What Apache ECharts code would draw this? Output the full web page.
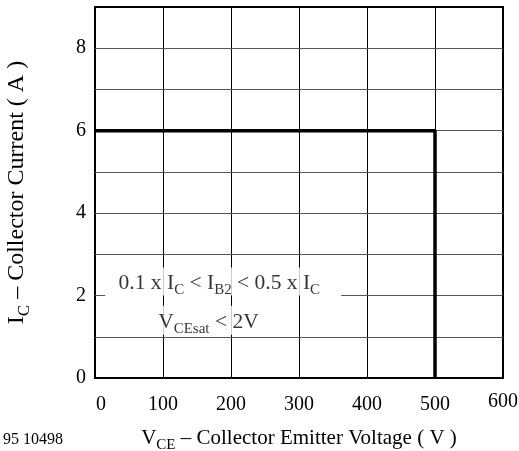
<!DOCTYPE html>
<html>
<head>
<meta charset="utf-8">
<script src="https://cdn.jsdelivr.net/npm/echarts@6/dist/echarts.min.js"></script>
<style>
html,body{margin:0;padding:0;background:#fff;}
#c{width:519px;height:451px;}
</style>
</head>
<body>
<div id="c"></div>
<script>
// ---- data ----
var xTicks = [0, 100, 200, 300, 400, 500, 600];
var yTicks = [0, 1, 2, 3, 4, 5, 6, 7, 8, 9];
var yLabelValues = [0, 2, 4, 6, 8];
var soaX = [0, 500, 500];
var soaY = [6, 6, 0];
var gridGapY = 2;          // horizontal grid line interrupted by the note
var gridGapX = [15, 362];  // extent of interruption (V)
var note1Pos = [188, 2.34];
var note2Pos = [169, 1.40];

var FONT = "'Liberation Serif', 'Times New Roman', serif";
var chart = echarts.init(document.getElementById('c'), null, {renderer: 'canvas'});

var soaData = soaX.map(function (x, i) { return [x, soaY[i]]; });

// horizontal grid lines as mark lines (so one can have a gap)
var hLines = [];
yTicks.forEach(function (y) {
  if (y === 0 || y === 9) return;
  if (y === gridGapY) {
    hLines.push([{coord: [0, y]}, {coord: [gridGapX[0], y]}]);
    hLines.push([{coord: [gridGapX[1], y]}, {coord: [600, y]}]);
  } else {
    hLines.push([{coord: [0, y]}, {coord: [600, y]}]);
  }
});

var subRich = {
  n: {fontFamily: FONT, fontSize: 21.5, color: '#000', verticalAlign: 'top', lineHeight: 23},
  s: {fontFamily: FONT, fontSize: 15, color: '#000', verticalAlign: 'top', lineHeight: 17, padding: [10, 0, 0, 0]}
};
var xNameRich = {
  n: {fontFamily: FONT, fontSize: 21, color: '#000', verticalAlign: 'top', lineHeight: 23},
  s: {fontFamily: FONT, fontSize: 15, color: '#000', verticalAlign: 'top', lineHeight: 17, padding: [10, 0, 0, 0]}
};
var yNameRich = {
  n: {fontFamily: FONT, fontSize: 24, color: '#000', verticalAlign: 'top', lineHeight: 26},
  s: {fontFamily: FONT, fontSize: 17, color: '#000', verticalAlign: 'top', lineHeight: 18, padding: [11, 0, 0, 0]}
};

var option = {
  backgroundColor: '#fff',
  animation: false,
  grid: {left: 95, top: 7, right: 16, bottom: 73, show: true, borderColor: '#000', borderWidth: 2,
         backgroundColor: 'transparent', containLabel: false, outerBoundsMode: 'none'},
  xAxis: {
    type: 'value', min: 0, max: 600, interval: 100,
    name: '{n|V}{s|CE}{n| – Collector Emitter Voltage ( V )}',
    nameLocation: 'middle', nameGap: 50,
    nameTextStyle: {rich: xNameRich},
    axisLine: {show: true, onZero: false, lineStyle: {color: '#000', width: 2}},
    axisTick: {show: false},
    splitLine: {show: true, lineStyle: {color: '#000', width: 1}},
    axisLabel: {
      margin: 14,
      formatter: function (v) {
        if (v === 0) return '{z|0}';
        if (v === 600) return '{t|600}';
        return '{n|' + v + '}';
      },
      rich: {
        n: {fontFamily: FONT, fontSize: 20, color: '#000', padding: [3, 0, 0, 0]},
        z: {fontFamily: FONT, fontSize: 20, color: '#000', padding: [3, 0, 0, 12]},
        t: {fontFamily: FONT, fontSize: 20, color: '#000', padding: [0, 0, 0, 0]}
      }
    }
  },
  yAxis: {
    type: 'value', min: 0, max: 9, interval: 1,
    name: '{n|I}{s|C}{n| – Collector Current ( A )}',
    nameLocation: 'middle', nameGap: 64,
    nameTextStyle: {rich: yNameRich},
    axisLine: {show: true, onZero: false, lineStyle: {color: '#000', width: 2}},
    axisTick: {show: false},
    splitLine: {show: false},
    axisLabel: {
      margin: 9,
      fontFamily: FONT, fontSize: 20, color: '#000',
      formatter: function (v) { return yLabelValues.indexOf(v) >= 0 ? String(v) : ''; }
    }
  },
  graphic: [{
    type: 'text', left: 3, top: 432,
    style: {text: '95 10498', font: '16px ' + FONT, fill: '#000'}
  }],
  series: [
    {
      type: 'line', data: [], silent: true,
      markLine: {
        silent: true, symbol: ['none', 'none'], label: {show: false},
        lineStyle: {color: '#555', width: 1, type: 'solid'},
        data: hLines
      }
    },
    {
      type: 'line', data: soaData, showSymbol: false, silent: true,
      lineStyle: {color: '#000', width: 3.5}, z: 5
    },
    {
      type: 'scatter', symbolSize: 0, silent: true, z: 6,
      data: [note1Pos],
      label: {
        show: true, position: 'inside', backgroundColor: '#fff', padding: [5, 19, 0, 12],
        formatter: '{n|0.1 x I}{s|C}{n| < I}{s|B2}{n| < 0.5 x I}{s|C}',
        rich: subRich
      }
    },
    {
      type: 'scatter', symbolSize: 0, silent: true, z: 6,
      data: [note2Pos],
      label: {
        show: true, position: 'inside', backgroundColor: '#fff', padding: [6, 8, 0, 5],
        formatter: '{n|V}{s|CEsat}{n| < 2V}',
        rich: subRich
      }
    }
  ]
};
chart.setOption(option);
</script>
</body>
</html>
